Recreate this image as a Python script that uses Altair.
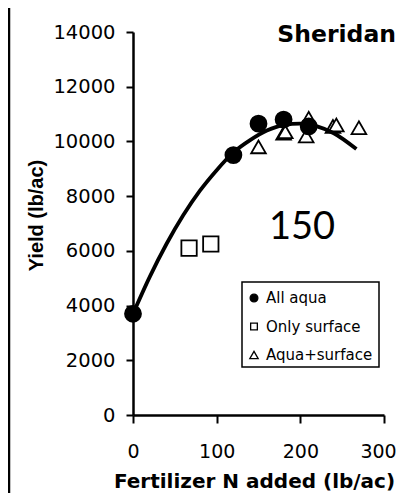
import altair as alt
import pandas as pd

# All aqua (filled circles)
aqua_n = [0, 120, 150, 180, 210]
aqua_yield = [3700, 9500, 10650, 10800, 10550]

# Only surface (open squares)
surface_n = [67, 93]
surface_yield = [6100, 6250]

# Aqua+surface (open triangles)
mixed_n = [150, 180, 182, 207, 210, 239, 243, 270]
mixed_yield = [9800, 10300, 10350, 10200, 10850, 10550, 10600, 10500]

# response curve
curve_n = [0, 20, 40, 60, 80, 100, 120, 140, 160, 180, 200, 220, 240, 267]
curve_yield = [3700, 5050, 6250, 7300, 8200, 8950, 9600, 10050, 10400, 10600, 10650, 10550, 10300, 9720]

series = ['All aqua', 'Only surface', 'Aqua+surface']
site_name = 'Sheridan'
rate_label = '150'

points = pd.DataFrame({
    'n': mixed_n + surface_n + aqua_n,
    'yield': mixed_yield + surface_yield + aqua_yield,
    'series': ['Aqua+surface'] * len(mixed_n) + ['Only surface'] * len(surface_n) + ['All aqua'] * len(aqua_n),
})
curve = pd.DataFrame({'n': curve_n, 'yield': curve_yield})

shape_scale = alt.Scale(domain=series, range=['circle', 'square', 'triangle-up'])
fill_scale = alt.Scale(domain=series, range=['black', 'white', 'white'])

x_enc = alt.X('n:Q', scale=alt.Scale(domain=[0, 300], nice=False),
              axis=alt.Axis(values=[0, 100, 200, 300], format='d', title='Fertilizer N added (lb/ac)',
                            grid=False, labelFlush=False, tickSize=8, labelPadding=34,
                            labelFontSize=19,
                            labelOffset={'condition': {'test': 'datum.value == 300', 'value': -6}, 'value': 0},
                            labelBaseline='alphabetic', titleX=121, titleY=72,
                            titleAlign='center', titleBaseline='alphabetic',
                            titleFont='DejaVu Sans', titleFontSize=20))
y_enc = alt.Y('yield:Q', scale=alt.Scale(domain=[0, 14000], nice=False),
              axis=alt.Axis(values=list(range(0, 14001, 2000)), format='d', title='Yield (lb/ac)',
                            grid=False, labelFlush=False, tickSize=7, labelPadding=11,
                            labelFontSize=19.5,
                            titleAngle=270, titleX=-90.5, titleY=183, titleAlign='center',
                            titleBaseline='alphabetic', titleFont='Liberation Sans', titleFontSize=20))

dots = alt.Chart(points).mark_point(filled=True, stroke='black', strokeWidth=1.8, opacity=1).encode(
    x=x_enc,
    y=y_enc,
    shape=alt.Shape('series:N', scale=shape_scale, legend=None),
    fill=alt.Fill('series:N', scale=fill_scale, legend=None),
    size=alt.Size('series:N', scale=alt.Scale(domain=series, range=[256, 215, 300]), legend=None),
)

fit = alt.Chart(curve).mark_line(color='black', strokeWidth=3.8, interpolate='monotone').encode(
    x='n:Q', y='yield:Q'
)

site = alt.Chart(pd.DataFrame({'label': [site_name]})).mark_text(
    font='DejaVu Sans', fontSize=23.5, fontWeight='bold', align='right', baseline='alphabetic', color='black'
).encode(text='label:N', x=alt.value(263), y=alt.value(10))

rate = alt.Chart(pd.DataFrame({'label': [rate_label]})).mark_text(
    font='Lato', fontSize=38, align='center', baseline='alphabetic', color='black'
).encode(text='label:N', x=alt.value(169), y=alt.value(207))

# dark edge of the slide frame on the left
frame_edge = alt.Chart(pd.DataFrame({'k': [0]})).mark_rule(color='black', strokeWidth=2.5).encode(
    x=alt.value(-124), y=alt.value(-24), y2=alt.value(461)
)

# legend box drawn by hand inside the plot
legend_box = alt.Chart(pd.DataFrame({'k': [0]})).mark_rect(
    fill='white', stroke='black', strokeWidth=1.5
).encode(x=alt.value(109), x2=alt.value(246), y=alt.value(250), y2=alt.value(335))

legend_layers = [legend_box]
for i, name in enumerate(series):
    row = alt.Chart(pd.DataFrame({'series': [name]}))
    row_y = 266 + 28.5 * i
    legend_layers.append(row.mark_point(
        filled=True, stroke='black', strokeWidth=1.3, opacity=1, size=[60, 45, 70][i]
    ).encode(
        x=alt.value(121), y=alt.value(row_y),
        shape=alt.Shape('series:N', scale=shape_scale, legend=None),
        fill=alt.Fill('series:N', scale=fill_scale, legend=None),
    ))
    legend_layers.append(row.mark_text(
        font='DejaVu Sans', fontSize=15, align='left', baseline='middle', color='black'
    ).encode(text='series:N', x=alt.value(133), y=alt.value(row_y)))

chart = alt.layer(frame_edge, dots, fit, site, rate, *legend_layers).properties(
    width=251,
    height=383,
    autosize=alt.AutoSizeParams(type='none'),
    padding={'left': 125, 'top': 24, 'right': 13, 'bottom': 78},
    background='white',
).configure_view(
    stroke=None
).configure_axis(
    domainColor='black', domainWidth=2.5, tickColor='black', tickWidth=2,
    labelFont='DejaVu Sans', labelColor='black',
    titleColor='black', titleFontWeight='bold'
)

chart.save('out.html', embed_options={'renderer': 'svg', 'actions': False})
